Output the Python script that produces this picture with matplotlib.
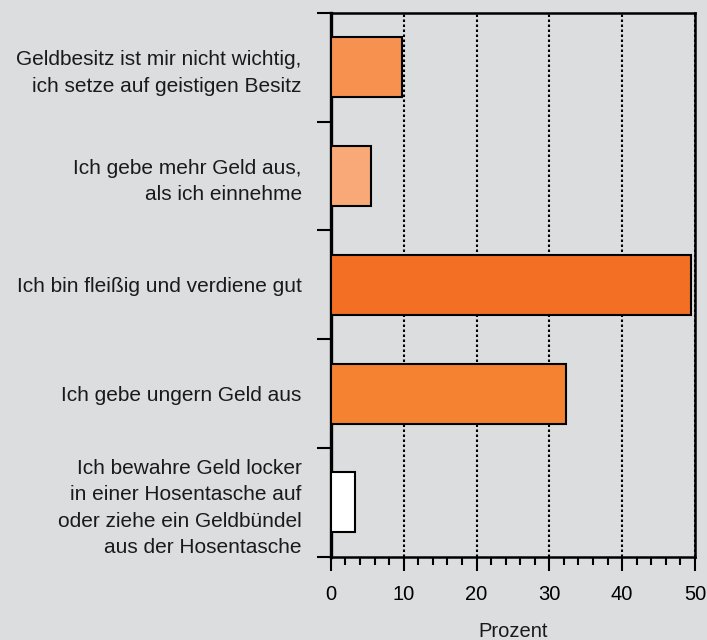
import matplotlib.pyplot as plt
import numpy as np
from matplotlib.ticker import MultipleLocator, FixedLocator, NullFormatter

plt.rcParams['font.family'] = ['Liberation Sans', 'DejaVu Sans']

labels = ['Geldbesitz ist mir nicht wichtig,\nich setze auf geistigen Besitz',
          'Ich gebe mehr Geld aus,\nals ich einnehme',
          'Ich bin fleißig und verdiene gut',
          'Ich gebe ungern Geld aus',
          'Ich bewahre Geld locker\nin einer Hosentasche auf\noder ziehe ein Geldbündel\naus der Hosentasche']
values = [9.7, 5.5, 49.5, 32.3, 3.3]
colors = ['#f6914f', '#f9a877', '#f36f24', '#f58230', '#ffffff']

bg = '#dcdddf'
fig = plt.figure(figsize=(7.07, 6.4), dpi=100, facecolor=bg)
ax = fig.add_axes([0.468, 0.130, 0.515, 0.850], facecolor=bg)

y = np.arange(len(values))
ax.barh(y, values, height=0.55, color=colors, edgecolor='black', linewidth=1.5, zorder=3)

ax.set_xlim(0, 50)
ax.set_ylim(len(values) - 0.5, -0.5)

ax.xaxis.set_major_locator(MultipleLocator(10))
ax.xaxis.set_minor_locator(MultipleLocator(2))
ax.tick_params(axis='x', which='major', length=10, width=1.5, labelsize=14.5, pad=10)
ax.tick_params(axis='x', which='minor', length=6, width=1.5)

ax.yaxis.set_major_locator(FixedLocator(np.arange(-0.5, len(values), 1.0)))
ax.yaxis.set_major_formatter(NullFormatter())
ax.yaxis.set_minor_locator(FixedLocator(y))
ax.set_yticks(y, labels, minor=True)
ax.tick_params(axis='y', which='major', length=10, width=1.5)
ax.tick_params(axis='y', which='minor', length=0, pad=21, labelsize=15)
for t in ax.get_yticklabels(minor=True):
    t.set_linespacing(1.5)
    t.set_horizontalalignment('right')
    t.set_color('#1a1a1a')

ax.grid(axis='x', which='major', color='black', linestyle=(0, (1.2, 1.2)), linewidth=1.5, zorder=1)

for s in ax.spines.values():
    s.set_linewidth(1.8)
ax.spines['left'].set_linewidth(2.4)

ax.set_xlabel('Prozent', fontsize=14.5, labelpad=13, color='#1a1a1a')

fig.savefig('out.png', dpi=100, facecolor=bg)
